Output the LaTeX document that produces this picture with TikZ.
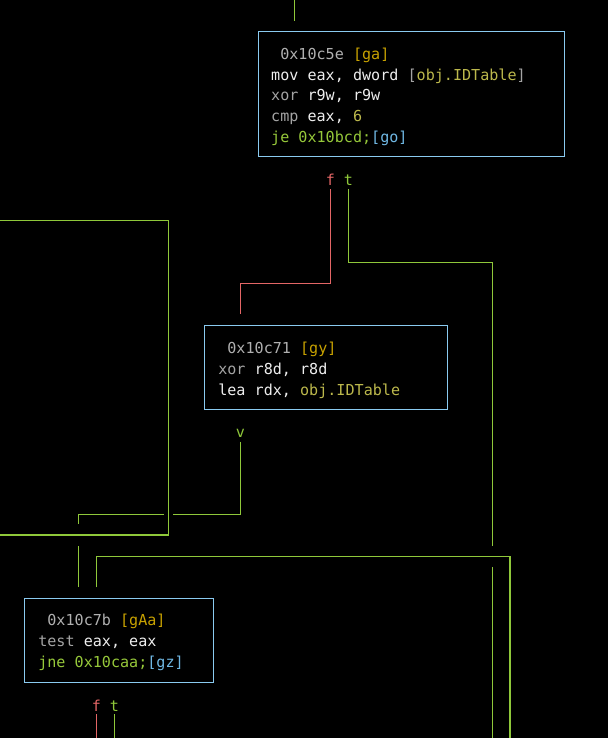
\documentclass[tikz,border=0pt]{standalone}
\usepackage{fontspec}
\setmonofont{DejaVu Sans Mono}
\definecolor{boxblue}{HTML}{8ACAF0}
\definecolor{edgegreen}{HTML}{8FC83A}
\definecolor{edgered}{HTML}{E46666}
\definecolor{addr}{HTML}{B0B0B0}
\definecolor{gold}{HTML}{C8A200}
\definecolor{wht}{HTML}{EEEEEE}
\definecolor{dim}{HTML}{A4A4A4}
\definecolor{olive}{HTML}{BCB84C}
\definecolor{jgreen}{HTML}{96C83A}
\definecolor{lblue}{HTML}{70B8E4}
\newcommand\asmfnt{\ttfamily\fontsize{15.1}{21}\selectfont}
\begin{document}
\begin{tikzpicture}[x=1pt,y=-1pt,
  every node/.style={inner sep=0pt, outer sep=0pt},
  blk/.style={draw=boxblue, line width=1.3pt, anchor=north west},
  asm/.style={anchor=base west, font=\asmfnt, text=wht},
  lbl/.style={anchor=base, font=\asmfnt},
  edg/.style={line width=1.4pt, draw=edgegreen},
  edr/.style={line width=1.4pt, draw=edgered}]
\fill[black] (0,0) rectangle (608,738);
\useasboundingbox (0,0) rectangle (608,738);

% blocks
\node[blk, minimum width=306pt, minimum height=125pt] (ga) at (258.3,31.7) {};
\node[blk, minimum width=243.4pt, minimum height=84pt] (gy) at (204.3,325.3) {};
\node[blk, minimum width=189pt, minimum height=84pt] (gAa) at (24.3,598.3) {};

% block texts
\node[asm] (ga1) at (271.2,59.3) {\ \textcolor{addr}{0x10c5e} \textcolor{gold}{[ga]}};
\node[asm] (ga2) at (271.2,80.1) {mov eax, dword \textcolor{dim}{[}\textcolor{olive}{obj.IDTable}\textcolor{dim}{]}};
\node[asm] (ga3) at (271.2,101.0) {\textcolor{dim}{xor} r9w, r9w};
\node[asm] (ga4) at (271.2,121.8) {\textcolor{dim}{cmp} eax, \textcolor{olive}{6}};
\node[asm] (ga5) at (271.2,142.7) {\textcolor{jgreen}{je 0x10bcd;}\textcolor{lblue}{[go]}};

\node[asm] (gy1) at (218.3,353.3) {\ \textcolor{addr}{0x10c71} \textcolor{gold}{[gy]}};
\node[asm] (gy2) at (218.3,374.1) {\textcolor{dim}{xor} r8d, r8d};
\node[asm] (gy3) at (218.3,395.0) {lea rdx, \textcolor{olive}{obj.IDTable}};

\node[asm] (gAa1) at (38.3,625.7) {\ \textcolor{addr}{0x10c7b} \textcolor{gold}{[gAa]}};
\node[asm] (gAa2) at (38.3,646.6) {\textcolor{dim}{test} eax, eax};
\node[asm] (gAa3) at (38.3,667.5) {\textcolor{jgreen}{jne 0x10caa;}\textcolor{lblue}{[gz]}};

% branch labels
\node[lbl, text=edgered] (f1) at (330.3,185.5) {f};
\node[lbl, text=edgegreen] (t1) at (348.3,185.5) {t};
\node[lbl, text=edgegreen] (v1) at (240.3,437.0) {v};
\node[lbl, text=edgered] (f2) at (96.3,711.0) {f};
\node[lbl, text=edgegreen] (t2) at (114.3,711.0) {t};

% coordinates
\coordinate (in0) at (294.3,0);
\coordinate (in0e) at (294.3,20.7);
\coordinate (rb) at (240.3,283.3);
\coordinate (re) at (240.3,314.3);
\coordinate (gb) at (492.3,262.3);
\coordinate (gx1) at (492.3,546);
\coordinate (gx2) at (492.3,567);
\coordinate (gxe) at (492.3,738);
\coordinate (vb) at (173.3,514.3);
\coordinate (vc) at (164,514.3);
\coordinate (vd) at (78.3,524.3);
\coordinate (ve) at (78.3,546);
\coordinate (vf) at (78.3,587.3);
\coordinate (la) at (0,220.3);
\coordinate (lb) at (168.7,535);
\coordinate (lc) at (0,535);
\coordinate (ba) at (96.3,587.3);
\coordinate (bb) at (510,556.3);
\coordinate (bc) at (510,738);
\coordinate (fe) at (96.3,738);
\coordinate (te) at (114.3,738);

% connectors
\draw[edg] (in0) -- (in0e);
\draw[edr] ([yshift=-3.5pt]f1.south) |- (rb) -- (re);
\draw[edg] ([yshift=-3.5pt]t1.south) |- (gb) -- (gx1);
\draw[edg] (gx2) -- (gxe);
\draw[edg] ([yshift=-4.7pt]v1.south) |- (vb);
\draw[edg] (vc) -| (vd);
\draw[edg] (ve) -- (vf);
\draw[edg] (la) -| (lb) -- (lc);
\draw[edg] (ba) |- (bb) -- (bc);
\draw[edr] ([yshift=-3pt]f2.south) -- (fe);
\draw[edg] ([yshift=-3pt]t2.south) -- (te);
\end{tikzpicture}
\end{document}
